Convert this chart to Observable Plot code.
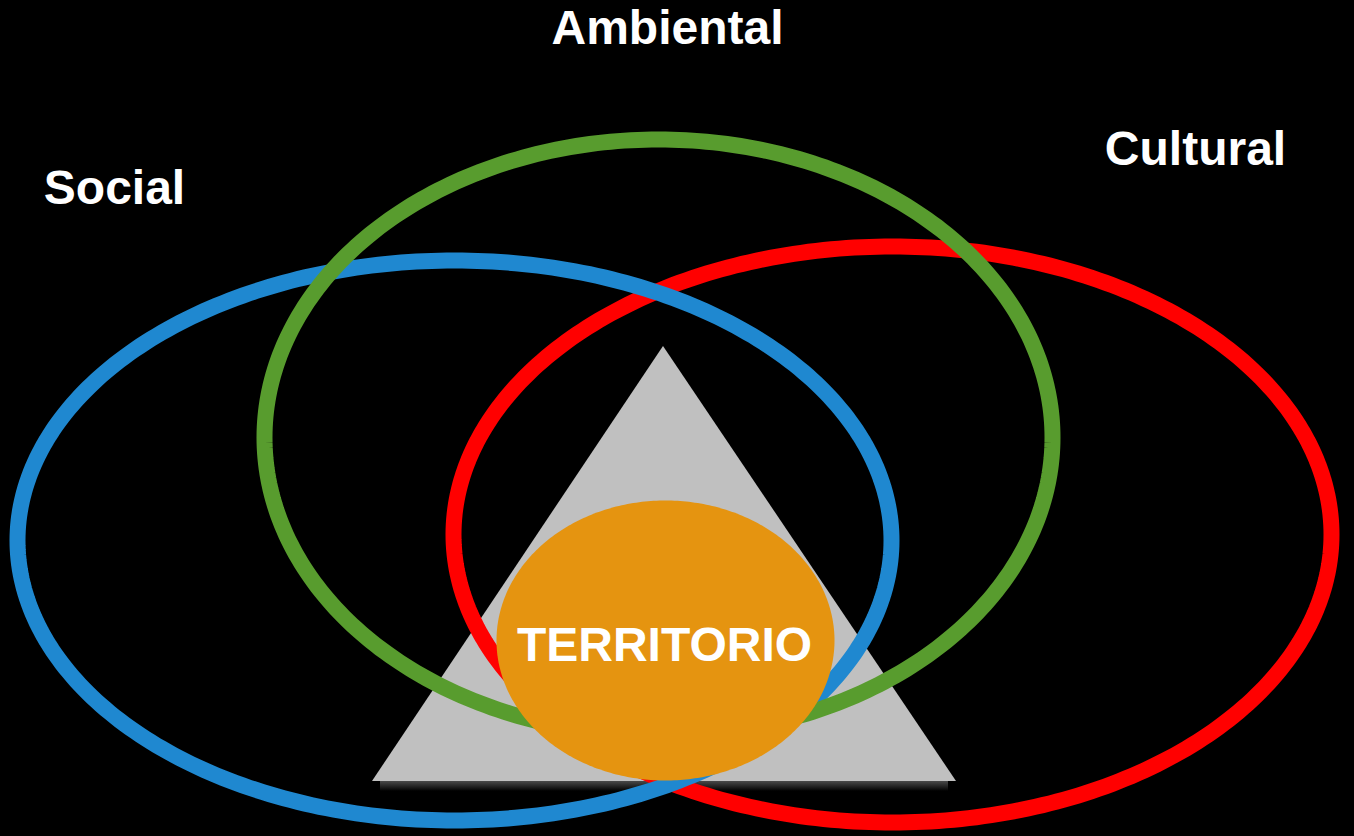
<!DOCTYPE html>
<html><head><meta charset="utf-8">
<script src="https://cdn.jsdelivr.net/npm/d3@7"></script>
<script src="https://cdn.jsdelivr.net/npm/@observablehq/plot@0.6"></script>
<style>html,body{margin:0;padding:0;background:#000;overflow:hidden}</style>
</head><body><div id="chart"></div>
<script>
// Ellipse dimensions (drawn in order: red, blue, green)
const dimensions = ["Cultural", "Social", "Ambiental"];
const ellipseColors = ["#ff0000", "#1f88d0", "#589c2e"];
const ellipseCx = [892, 454, 658];
const ellipseCy = [534, 540, 437];
const ellipseRx = [439, 437, 394];
const ellipseRy = [288, 280, 298];
const labelX = [1195, 114, 667];
const labelY = [164, 203, 43];

// Triangle vertices
const triangleX = [372, 663, 956];
const triangleY = [781, 346, 781];

// Core ellipse
const coreLabel = ["TERRITORIO"];
const coreCx = [665], coreCy = [640], coreRx = [169], coreRy = [140];
const coreX = [664], coreY = [660];

const W = 1354, H = 836;

function ellipsePts(cx, cy, rx, ry, key) {
  return d3.range(0, 360, 1).map(t => {
    const a = t * Math.PI / 180;
    return {x: cx + rx * Math.cos(a), y: cy + ry * Math.sin(a), k: key};
  });
}

const ellipseData = dimensions.flatMap((d, i) => ellipsePts(ellipseCx[i], ellipseCy[i], ellipseRx[i], ellipseRy[i], d));
const coreData = ellipsePts(coreCx[0], coreCy[0], coreRx[0], coreRy[0], coreLabel[0]);
const triData = triangleX.map((x, i) => ({x, y: triangleY[i], base: triangleY[0]}));
const labels = dimensions.map((d, i) => ({text: d, x: labelX[i], y: labelY[i]}));
const shadow = [{x1: triangleX[0] + 8, x2: triangleX[2] - 8, y1: triangleY[0], y2: triangleY[0] + 10}];

const plot = Plot.plot({
  width: W, height: H,
  margin: 0,
  x: {domain: [0, W], range: [0, W], axis: null},
  y: {domain: [0, H], range: [0, H], axis: null},
  style: {background: "#000", overflow: "visible"},
  marks: [
    Plot.rect(shadow, {x1: "x1", x2: "x2", y1: "y1", y2: "y2", fill: "url(#triShadow)"}),
    Plot.areaY(triData, {x: "x", y1: "base", y2: "y", fill: "#c0c0c0", curve: "linear"}),
    ...dimensions.map((d, i) => Plot.line(ellipseData.filter(p => p.k === d), {
      x: "x", y: "y", stroke: ellipseColors[i], strokeWidth: 16, curve: "linear-closed"
    })),
    Plot.line(coreData, {x: "x", y: "y", fill: "#e59410", stroke: "none", curve: "linear-closed"}),
    Plot.text(labels, {x: "x", y: "y", text: "text", fill: "#fff", fontSize: 48, fontWeight: "bold",
      fontFamily: "Liberation Sans, Arial, sans-serif", lineAnchor: "bottom"}),
    Plot.text(coreLabel, {x: () => coreX[0], y: () => coreY[0], text: d => d, fill: "#fff", fontSize: 48, fontWeight: "bold",
      fontFamily: "Liberation Sans, Arial, sans-serif", lineAnchor: "bottom"})
  ]
});

const defs = d3.select(plot).insert("defs", ":first-child");
const g = defs.append("linearGradient").attr("id", "triShadow").attr("x1", 0).attr("y1", 0).attr("x2", 0).attr("y2", 1);
g.append("stop").attr("offset", "0%").attr("stop-color", "#4a4a4a");
g.append("stop").attr("offset", "100%").attr("stop-color", "#000");

document.getElementById("chart").appendChild(plot);
</script>
</body></html>
